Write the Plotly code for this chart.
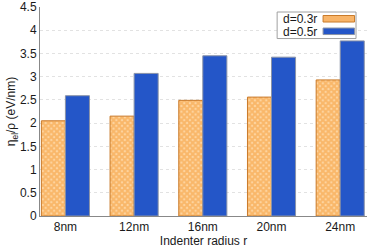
import plotly.graph_objects as go

categories = ["8nm", "12nm", "16nm", "20nm", "24nm"]
d03 = [2.05, 2.15, 2.49, 2.56, 2.93]
d05 = [2.59, 3.07, 3.45, 3.42, 3.77]
yticks = [0, 0.5, 1, 1.5, 2, 2.5, 3, 3.5, 4, 4.5]
names = ["d=0.3r", "d=0.5r"]

W, H = 374, 249
ML, MR, MT, MB = 39.5, 7, 7, 33.3

def px(x):
    return (x - ML) / (W - ML - MR)

def py(y):
    return (H - MB - y) / (H - MT - MB)

ORANGE_BG = "#FDD6A4"
ORANGE_FG = "#F5982E"
ORANGE_LINE = "#C97A2A"
BLUE = "#2456C8"

fig = go.Figure()
fig.add_trace(go.Bar(
    x=categories, y=d03, name=names[0],
    marker=dict(color=ORANGE_BG, line=dict(color=ORANGE_LINE, width=1),
                pattern=dict(shape="x", fgcolor=ORANGE_FG, size=4, solidity=0.75)),
))
fig.add_trace(go.Bar(
    x=categories, y=d05, name=names[1],
    marker=dict(color=BLUE, line=dict(color="#8A93A8", width=1)),
))

# custom legend (text left, swatch right)
shapes = [
    dict(type="rect", xref="paper", yref="paper", x0=px(277), x1=px(356), y0=py(38.5), y1=py(12),
         line=dict(color="#A0A0A0", width=1), fillcolor="white", layer="above"),
    dict(type="rect", xref="paper", yref="paper", x0=px(323), x1=px(354.5), y0=py(22), y1=py(15.5),
         line=dict(color=ORANGE_LINE, width=1), fillcolor="#F8B468", layer="above"),
    dict(type="rect", xref="paper", yref="paper", x0=px(323), x1=px(354.5), y0=py(34.5), y1=py(28),
         line=dict(color="#8A93A8", width=1), fillcolor=BLUE, layer="above"),
]
annotations = [
    dict(text=names[0], xref="paper", yref="paper", x=px(281), y=py(18.5), xanchor="left",
         yanchor="middle", showarrow=False, font=dict(size=12)),
    dict(text=names[1], xref="paper", yref="paper", x=px(281), y=py(31.5), xanchor="left",
         yanchor="middle", showarrow=False, font=dict(size=12)),
]

fig.update_layout(
    width=W, height=H,
    margin=dict(l=ML, r=MR, t=MT, b=MB, pad=0, autoexpand=False),
    paper_bgcolor="white", plot_bgcolor="white",
    font=dict(family="Liberation Sans, Arial", size=12, color="#1a1a1a"),
    barmode="group", bargap=0.30, bargroupgap=0,
    showlegend=False,
    shapes=shapes, annotations=annotations,
    xaxis=dict(showline=True, linecolor="#888", linewidth=1, ticks="", automargin=False,
               range=[-0.37, 4.39], fixedrange=True,
               title=dict(text="Indenter radius r", standoff=2, font=dict(size=12))),
    yaxis=dict(range=[0, 4.5], tickvals=yticks, ticktext=[f"{v:g}" for v in yticks],
               showline=True, linecolor="#888", linewidth=1, ticks="", automargin=False,
               showgrid=True, gridcolor="#e2e2e2", griddash="dot", zeroline=False,
               fixedrange=True,
               title=dict(text="η<sub>el</sub>/ρ (eV/nm)", standoff=1, font=dict(size=12))),
)
fig.write_html("out.html", config={"displayModeBar": False, "staticPlot": True},
               post_script="document.body.style.margin='0';document.body.style.padding='0';")
